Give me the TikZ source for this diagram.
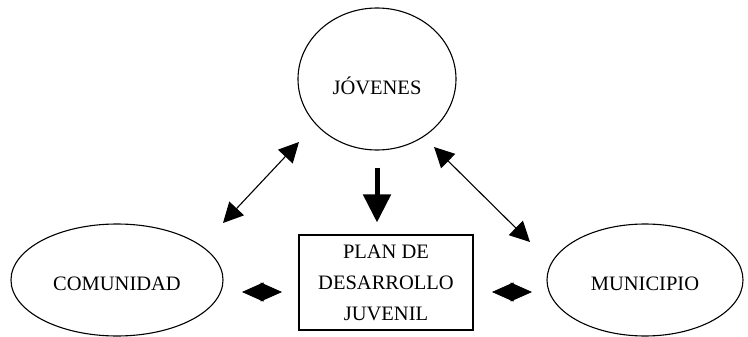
\documentclass[tikz,border=0pt]{standalone}
\usepackage{fontspec}
\setmainfont{Liberation Serif}
\usetikzlibrary{arrows.meta,shapes.geometric}
\begin{document}
\begin{tikzpicture}[x=1pt,y=-1pt,
  bubble/.style={ellipse,draw,line width=1.1pt,inner sep=0pt,
    font=\fontsize{20.5}{24}\selectfont},
  planbox/.style={rectangle,draw,line width=1.1pt,inner sep=0pt,align=center,
    font=\fontsize{20.5}{31}\selectfont},
  thinarrow/.style={line width=1.1pt,
    {Triangle[length=20pt,width=20pt]}-{Triangle[length=20pt,width=20pt]}},
  diamondarrow/.style={line width=0.6pt,
    {Triangle[length=21.5pt,width=19pt]}-{Triangle[length=21.5pt,width=19pt]}},
  bigarrow/.style={line width=5pt,-{Triangle[length=28pt,width=27pt]}}
]
\useasboundingbox (0,0) rectangle (748,337);

\node[bubble,minimum width=158pt,minimum height=142pt,
      text height=32pt,text depth=0pt] (jov) at (377,79) {JÓVENES};
\node[bubble,minimum width=212pt,minimum height=112pt,
      text height=20pt,text depth=0pt] (com) at (117,280) {COMUNIDAD};
\node[bubble,minimum width=196pt,minimum height=112pt,
      text height=20pt,text depth=0pt] (mun) at (645,280) {MUNICIPIO};
\node[planbox,minimum width=174pt,minimum height=95pt] (plan) at (386,282.5)
  {PLAN DE\\DESARROLLO\\JUVENIL};

\coordinate (lt) at (299,142);
\coordinate (lb) at (223,223);
\coordinate (rt) at (434,147);
\coordinate (rb) at (530,242);
\coordinate (dl1) at (242,292);
\coordinate (dl2) at (282,292);
\coordinate (dr1) at (492,292);
\coordinate (dr2) at (532,292);

\draw[bigarrow,shorten <=17pt,shorten >=12pt] (jov.south) -- (jov.south |- plan.north);
\draw[thinarrow] (lt) -- (lb);
\draw[thinarrow] (rt) -- (rb);
\draw[diamondarrow] (dl1) -- (dl2);
\draw[diamondarrow] (dr1) -- (dr2);
\end{tikzpicture}
\end{document}
